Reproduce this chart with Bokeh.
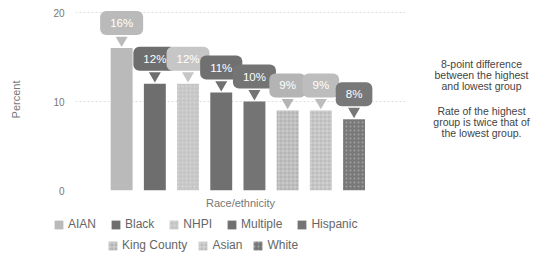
from bokeh.plotting import figure
from bokeh.models import ColumnDataSource, Legend, LegendItem, Range1d, FixedTicker
from bokeh.layouts import row, column
from bokeh.embed import file_html
from bokeh.resources import INLINE
from bokeh.core.properties import value

groups = ["AIAN", "Black", "NHPI", "Multiple", "Hispanic", "King County", "Asian", "White"]
values = [16, 12, 12, 11, 10, 9, 9, 8]
value_labels = ["16%", "12%", "12%", "11%", "10%", "9%", "9%", "8%"]
colors = ["#bababa", "#6e6e6e", "#c6c6c6", "#707070", "#747474", "#b4b4b4", "#bdbdbd", "#787878"]
hatches = [" ", " ", "dot", " ", " ", "cross", "cross", "dot"]
legend_row1 = ["AIAN", "Black", "NHPI", "Multiple", "Hispanic"]
legend_row2 = ["King County", "Asian", "White"]
y_ticks = [0, 10, 20]
note_para1 = ["8-point difference", "between the highest", "and lowest group"]
note_para2 = ["Rate of the highest", "group is twice that of", "the lowest group."]

FONT = "Liberation Sans"

xs = list(range(len(groups)))
src = ColumnDataSource(dict(
    x=xs, top=values, color=colors, hatch=hatches, lab=value_labels,
    ptr=[v + 0.9 for v in values], name=groups,
))

p = figure(width=410, height=214, output_backend="svg", toolbar_location=None,
           x_range=Range1d(-1.39, 8.55), y_range=Range1d(0, 20.45),
           min_border_left=75, min_border_right=5, min_border_top=8, min_border_bottom=24)
p.outline_line_color = None
p.xgrid.grid_line_color = None
p.ygrid.grid_line_color = "#dedede"
p.ygrid.grid_line_dash = "2 2"
p.yaxis.ticker = FixedTicker(ticks=y_ticks)
p.yaxis.axis_line_color = None
p.yaxis.major_tick_line_color = None
p.yaxis.minor_tick_line_color = None
p.yaxis.major_label_text_font = FONT
p.yaxis.major_label_text_font_size = "10px"
p.yaxis.major_label_text_color = "#777777"
p.yaxis.axis_label = "Percent"
p.yaxis.axis_label_text_font = FONT
p.yaxis.axis_label_text_font_style = "normal"
p.yaxis.axis_label_text_font_size = "11px"
p.yaxis.axis_label_text_color = "#777777"
p.yaxis.axis_label_standoff = 28

p.xaxis.ticker = FixedTicker(ticks=[])
p.xaxis.axis_label = "Race/ethnicity"
p.xaxis.axis_label_text_font = FONT
p.xaxis.axis_label_text_font_style = "normal"
p.xaxis.axis_label_text_font_size = "11px"
p.xaxis.axis_label_text_color = "#777777"
p.xaxis.axis_label_standoff = 6
p.xaxis.major_label_standoff = 0
p.xaxis.major_tick_line_color = None
p.xaxis.minor_tick_line_color = None
p.xaxis.axis_line_color = None

bars = p.vbar(x="x", top="top", width=0.66, bottom=0, source=src,
              fill_color="color", line_color=None,
              hatch_pattern="hatch", hatch_color="#ffffff", hatch_alpha=0.3, hatch_scale=4)

p.scatter(x="x", y="ptr", marker="inverted_triangle", size=12, source=src,
          fill_color="color", line_color=None)
p.text(x="x", y="top", text="lab", source=src, y_offset=-25,
       text_align="center", text_baseline="middle",
       text_font=value(FONT), text_font_size="11.5px",
       text_color="#ffffff",
       background_fill_color="color", padding=[10, 6], border_radius=6)

# notes panel: its frame is aligned with the chart frame (screen rows 8..190)
n = figure(width=128, height=214, output_backend="svg", toolbar_location=None,
           x_axis_type=None, y_axis_type=None,
           x_range=Range1d(0, 128), y_range=Range1d(190, 8), min_border=0)
n.outline_line_color = None
n.grid.visible = False
for lines, y0 in ((note_para1, 63), (note_para2, 110)):
    n.text(x=[71] * len(lines), y=[y0 + 11 * j for j in range(len(lines))], text=lines,
           text_align="center", text_baseline="middle",
           text_font=value(FONT), text_font_size="10.5px", text_color="#444444")

# legend panel
lf = figure(width=538, height=38, output_backend="svg", toolbar_location=None,
            x_axis_type=None, y_axis_type=None,
            x_range=Range1d(0, 1), y_range=Range1d(0, 1), min_border=0)
lf.outline_line_color = None
lf.grid.visible = False
items1, items2 = [], []
for i, g in enumerate(groups):
    r = lf.vbar(x=[-100], top=[0], width=0.5, fill_color=colors[i], line_color=None,
                hatch_pattern=hatches[i], hatch_color="#ffffff", hatch_alpha=0.35, hatch_scale=4)
    item = LegendItem(label=g, renderers=[r])
    (items1 if g in legend_row1 else items2).append(item)

for items, loc, sp in ((items1, (53, 21), 14), (items2, (107, 0), 10)):
    lg = Legend(items=items, orientation="horizontal", location=loc,
                background_fill_alpha=0, border_line_color=None,
                padding=0, margin=0, spacing=sp, label_standoff=4,
                glyph_width=11, glyph_height=11,
                label_text_font=FONT, label_text_font_size="12px",
                label_text_color="#666666", label_height=11)
    lf.add_layout(lg)

layout = column(row(p, n, spacing=0), lf, spacing=0)
open("out.html", "w").write(file_html(layout, INLINE))
